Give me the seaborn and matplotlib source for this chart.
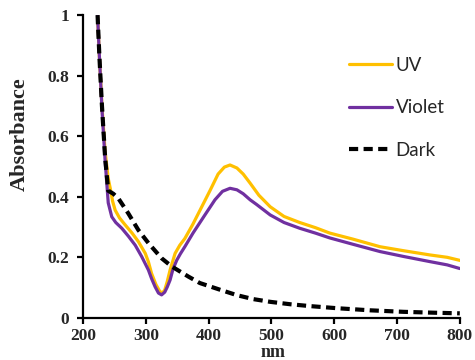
import matplotlib
matplotlib.use("Agg")
import matplotlib.pyplot as plt
import seaborn as sns
import pandas as pd

# Data
uv_x = [223, 226, 230, 235, 240, 243, 247, 251, 258, 267, 278, 288, 299, 304, 309, 316, 322, 326, 330, 334, 338.5, 346.5, 354, 362, 375, 389, 402, 415, 425, 434, 445, 455, 466, 480, 498, 520, 545, 570, 593, 630, 673, 710, 752, 780, 800]
uv_y = [1.0, 0.86, 0.70, 0.55, 0.46, 0.43, 0.385, 0.356, 0.33, 0.307, 0.28, 0.252, 0.213, 0.185, 0.147, 0.11, 0.088, 0.082, 0.092, 0.12, 0.158, 0.213, 0.24, 0.262, 0.31, 0.367, 0.42, 0.475, 0.498, 0.505, 0.495, 0.475, 0.445, 0.405, 0.367, 0.335, 0.315, 0.298, 0.28, 0.26, 0.235, 0.222, 0.208, 0.20, 0.19]

violet_x = [223, 226, 230, 235, 240, 245.6, 252, 261.6, 272, 283, 293.4, 304, 309, 314.6, 320, 325, 330, 334, 338.5, 343, 349, 355, 362, 375, 394, 410, 422, 434, 445, 455, 466, 476, 498, 520, 545, 570, 593, 630, 673, 710, 752, 780, 800]
violet_y = [1.0, 0.86, 0.69, 0.52, 0.38, 0.334, 0.315, 0.296, 0.27, 0.24, 0.202, 0.158, 0.13, 0.103, 0.082, 0.076, 0.085, 0.102, 0.125, 0.16, 0.19, 0.212, 0.235, 0.28, 0.34, 0.39, 0.418, 0.428, 0.423, 0.41, 0.39, 0.375, 0.34, 0.315, 0.296, 0.28, 0.264, 0.243, 0.219, 0.203, 0.186, 0.175, 0.163]

dark_x = [223, 226, 230, 235, 240, 248, 256, 264, 272, 288, 304, 325, 341, 368, 386, 418, 445, 471, 498, 530, 561, 604, 657, 710, 760, 800]
dark_y = [1.0, 0.86, 0.70, 0.53, 0.42, 0.41, 0.395, 0.37, 0.345, 0.29, 0.247, 0.197, 0.17, 0.136, 0.115, 0.093, 0.075, 0.062, 0.053, 0.045, 0.039, 0.032, 0.025, 0.02, 0.017, 0.015]

x_ticks = [200, 300, 400, 500, 600, 700, 800]
y_ticks = [0, 0.2, 0.4, 0.6, 0.8, 1]
y_tick_labels = ["0", "0.2", "0.4", "0.6", "0.8", "1"]

sns.set_style("white")
plt.rcParams['font.family'] = ['DejaVu Sans']

fig = plt.figure(figsize=(4.75, 3.6), dpi=100)
ax = fig.add_axes([0.175, 0.117, 0.793, 0.841])

df_uv = pd.DataFrame({"nm": uv_x, "Absorbance": uv_y})
df_vi = pd.DataFrame({"nm": violet_x, "Absorbance": violet_y})
df_dk = pd.DataFrame({"nm": dark_x, "Absorbance": dark_y})

sns.lineplot(data=df_uv, x="nm", y="Absorbance", ax=ax, color="#FFC000", lw=2.3, label="UV")
sns.lineplot(data=df_vi, x="nm", y="Absorbance", ax=ax, color="#7030A0", lw=2.3, label="Violet")
sns.lineplot(data=df_dk, x="nm", y="Absorbance", ax=ax, color="black", lw=3, label="Dark")
ax.lines[-1].set_dashes((2.2, 1.3))

ax.set_xlim(200, 800)
ax.set_ylim(0, 1)
ax.set_xticks(x_ticks)
ax.set_yticks(y_ticks)
ax.set_yticklabels(y_tick_labels)

for s in ["top", "right"]:
    ax.spines[s].set_visible(False)
for s in ["left", "bottom"]:
    ax.spines[s].set_linewidth(1.6)
    ax.spines[s].set_color("black")

ax.tick_params(axis="both", direction="out", length=4, width=1.6, color="black",
               left=True, bottom=True)
ax.tick_params(axis="y", pad=6)
ax.tick_params(axis="x", pad=3)
for lab in ax.get_xticklabels() + ax.get_yticklabels():
    lab.set_fontfamily("Liberation Serif")
    lab.set_fontweight("bold")
    lab.set_fontsize(12.5)

ax.set_xlabel("nm", fontfamily="Liberation Serif", fontweight="bold", fontsize=13, va="center")
ax.xaxis.set_label_coords(0.504, -0.115)
ax.set_ylabel("Absorbance", fontfamily="Liberation Serif", fontweight="bold", fontsize=16, va="center")
ax.yaxis.set_label_coords(-0.167, 0.607)

leg = ax.legend(loc="upper left", bbox_to_anchor=(0.705, 0.862), frameon=False,
                handlelength=2.3, handletextpad=0.2, labelspacing=1.35,
                borderpad=0, borderaxespad=0, prop={"family": "Lato", "size": 13.5})

fig.savefig("out.png", dpi=100)
